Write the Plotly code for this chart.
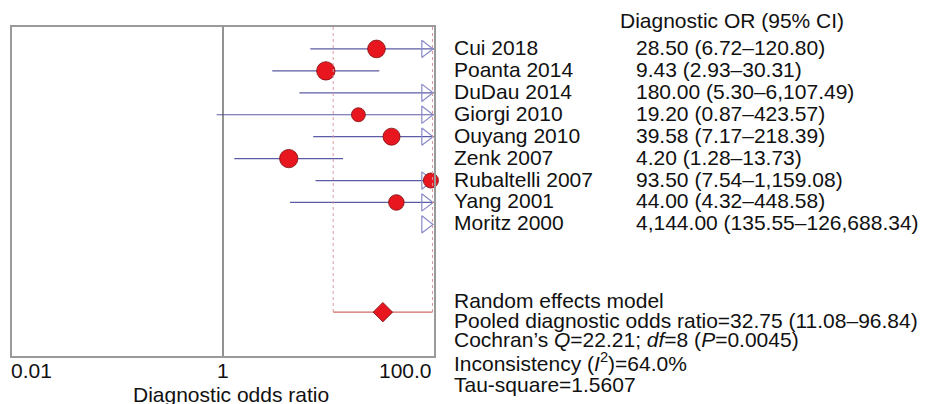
import math
import plotly.graph_objects as go

# study data
studies = ["Cui 2018", "Poanta 2014", "DuDau 2014", "Giorgi 2010", "Ouyang 2010",
           "Zenk 2007", "Rubaltelli 2007", "Yang 2001", "Moritz 2000"]
dor = [28.50, 9.43, 180.00, 19.20, 39.58, 4.20, 93.50, 44.00, 4144.00]
ci_low = [6.72, 2.93, 5.30, 0.87, 7.17, 1.28, 7.54, 4.32, 135.55]
ci_high = [120.80, 30.31, 6107.49, 423.57, 218.39, 13.73, 1159.08, 448.58, 126688.34]
ci_text = ["28.50 (6.72–120.80)", "9.43 (2.93–30.31)", "180.00 (5.30–6,107.49)",
           "19.20 (0.87–423.57)", "39.58 (7.17–218.39)", "4.20 (1.28–13.73)",
           "93.50 (7.54–1,159.08)", "44.00 (4.32–448.58)",
           "4,144.00 (135.55–126,688.34)"]
# relative weights (%), random effects
weights = [14.5, 16.0, 6.4, 7.6, 13.2, 15.9, 9.5, 10.3, 6.6]

pooled = 32.75
pooled_low = 11.08
pooled_high = 96.84

stats_lines = [
    "Random effects model",
    "Pooled diagnostic odds ratio=32.75 (11.08–96.84)",
    "Cochran’s <i>Q</i>=22.21; <i>df</i>=8 (<i>P</i>=0.0045)",
    "Inconsistency (<i>I</i><sup>2</sup>)=64.0%",
    "Tau-square=1.5607",
]

tick_vals = [0.01, 1, 100]
tick_text = ["0.01", "1", "100.0"]

X_MIN, X_MAX = -2, 2   # log10 range
Y_TOP, Y_BOT = -1, 14  # row range (reversed)
POOLED_ROW = 12
FONT = "Arial, Liberation Sans, sans-serif"
CI_COLOR = "#5c5ca6"
RED = "#e8161e"

# plot box in window pixels (page body has an 8px margin)
PAD = 8
L, R, T, B = 12, 434, 27, 356
W, H = 928, 404

rows = list(range(len(studies)))
fig = go.Figure()

# confidence interval lines
for i in rows:
    fig.add_trace(go.Scatter(
        x=[ci_low[i], ci_high[i]], y=[i, i], mode="lines",
        line=dict(color=CI_COLOR, width=1.2), hoverinfo="skip", showlegend=False
    ))

# arrows for intervals running past the axis
arrow_x = 10 ** (X_MAX - 0.08)
arrow_rows = [i for i in rows if ci_high[i] > 10 ** X_MAX]
fig.add_trace(go.Scatter(
    x=[arrow_x] * len(arrow_rows), y=arrow_rows, mode="markers",
    marker=dict(symbol="triangle-right-open", size=15, opacity=1,
                color="#8a8ac6", line=dict(width=1.2, color="#8a8ac6")),
    cliponaxis=False, hoverinfo="skip", showlegend=False
))

# study point estimates
pts = [i for i in rows if dor[i] <= 10 ** X_MAX]
fig.add_trace(go.Scatter(
    x=[dor[i] for i in pts], y=pts, mode="markers",
    marker=dict(symbol="circle", color=RED, opacity=1,
                size=[3.6 * math.sqrt(weights[i]) + 4 for i in pts],
                line=dict(color="#7a1010", width=0.8)),
    cliponaxis=False, showlegend=False,
    text=[studies[i] for i in pts],
    hovertemplate="%{text}: %{x:.2f}<extra></extra>"
))

# pooled estimate: dotted bounds and line
for v in [pooled_low, pooled_high]:
    fig.add_trace(go.Scatter(
        x=[v, v], y=[Y_TOP, POOLED_ROW], mode="lines",
        line=dict(color="#d99aa2", width=1, dash="dot"),
        hoverinfo="skip", showlegend=False
    ))
fig.add_trace(go.Scatter(
    x=[pooled_low, pooled_high], y=[POOLED_ROW, POOLED_ROW], mode="lines",
    line=dict(color="#d06a6a", width=1.2), hoverinfo="skip", showlegend=False
))
fig.add_trace(go.Scatter(
    x=[pooled], y=[POOLED_ROW], mode="markers",
    marker=dict(symbol="diamond", size=15, color=RED, opacity=1,
                line=dict(color="#7a1010", width=0.8)),
    showlegend=False, hovertemplate="Pooled: %{x:.2f}<extra></extra>"
))

# reference line at OR = 1
fig.add_trace(go.Scatter(
    x=[1, 1], y=[Y_TOP, Y_BOT], mode="lines",
    line=dict(color="#4a4a4a", width=1.2), hoverinfo="skip", showlegend=False
))


def row_px(r):
    return T + (r - Y_TOP) / (Y_BOT - Y_TOP) * (B - T)


def val_px(v):
    return L + (math.log10(v) - X_MIN) / (X_MAX - X_MIN) * (R - L)


def label(px, py, text, anchor="left"):
    # px, py in window pixels -> paper coords
    return dict(x=(px - L) / (R - L), y=(B - py) / (B - T),
                xref="paper", yref="paper", text=text, showarrow=False,
                xanchor=anchor, yanchor="middle",
                font=dict(family=FONT, size=21, color="#111111"))


annotations = [label(618, 20, "Diagnostic OR (95% CI)")]
for i in rows:
    annotations.append(label(452, row_px(i) - 1.5, studies[i]))
    annotations.append(label(634, row_px(i) - 1.5, ci_text[i]))

for line, py in zip(stats_lines, [300.5, 320.5, 339.5, 362, 384.5]):
    annotations.append(label(452, py, line))

# tick labels
for v, t, a, dx in zip(tick_vals, tick_text, ["left", "center", "right"], [-3, 0, 0]):
    annotations.append(label(val_px(v) + dx, 370, t, a))

annotations.append(label(231, 394, "Diagnostic odds ratio", "center"))

fig.update_layout(
    width=W, height=H,
    margin=dict(l=L - PAD, r=W - (R - PAD), t=T - PAD, b=H - (B - PAD)),
    plot_bgcolor="#ffffff", paper_bgcolor="#ffffff",
    annotations=annotations,
    xaxis=dict(type="log", range=[X_MIN, X_MAX], showgrid=False, zeroline=False,
               showticklabels=False, ticks="", showline=True, mirror=True,
               linecolor="#9a9a9a", linewidth=2),
    yaxis=dict(range=[Y_BOT, Y_TOP], showgrid=False, zeroline=False,
               showticklabels=False, ticks="", showline=True, mirror=True,
               linecolor="#9a9a9a", linewidth=2),
)

fig.write_html("out.html")
